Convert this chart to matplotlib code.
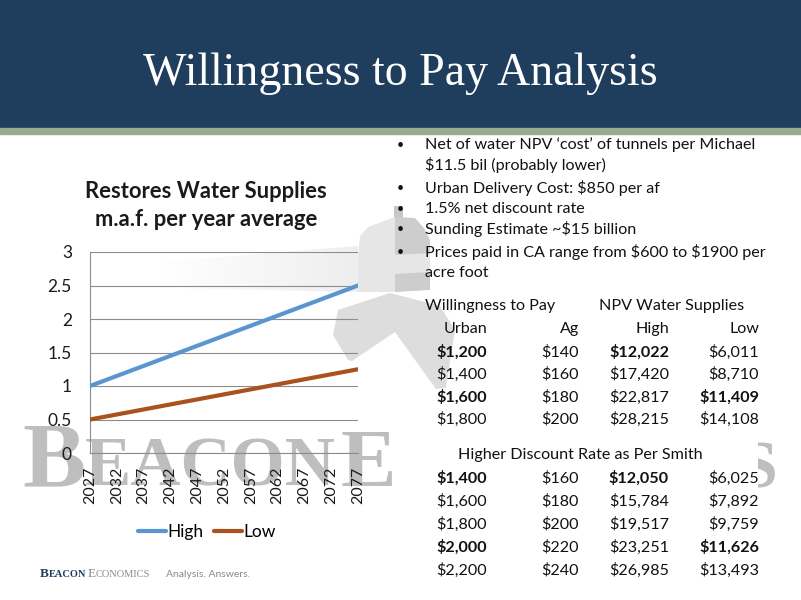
import matplotlib
matplotlib.use('Agg')
import numpy as np
import matplotlib.pyplot as plt
from matplotlib.patches import Rectangle, Polygon
from matplotlib.colors import LinearSegmentedColormap

# ---------------- data ----------------
years = [2027, 2032, 2037, 2042, 2047, 2052, 2057, 2062, 2067, 2072, 2077]
high = [1.0, 1.15, 1.3, 1.45, 1.6, 1.75, 1.9, 2.05, 2.2, 2.35, 2.5]
low = [0.5, 0.575, 0.65, 0.725, 0.8, 0.875, 0.95, 1.025, 1.1, 1.175, 1.25]
series_names = ['High', 'Low']
y_ticks = [0, 0.5, 1, 1.5, 2, 2.5, 3]
y_tick_labels = ['0', '0.5', '1', '1.5', '2', '2.5', '3']

slide_title = 'Willingness to Pay Analysis'
chart_title = ['Restores Water Supplies', 'm.a.f. per year average']

bullets = [
    ['Net of water NPV \u2018cost\u2019 of tunnels per Michael', '$11.5 bil (probably lower)'],
    ['Urban Delivery Cost: $850 per af'],
    ['1.5% net discount rate'],
    ['Sunding Estimate ~$15 billion'],
    ['Prices paid in CA range from $600 to $1900 per', 'acre foot'],
]

table1_groups = ['Willingness to Pay', 'NPV Water Supplies']
table_cols = ['Urban', 'Ag', 'High', 'Low']
table1_rows = [
    ['$1,200', '$140', '$12,022', '$6,011'],
    ['$1,400', '$160', '$17,420', '$8,710'],
    ['$1,600', '$180', '$22,817', '$11,409'],
    ['$1,800', '$200', '$28,215', '$14,108'],
]
table1_bold = [
    [True, False, True, False],
    [False, False, False, False],
    [True, False, False, True],
    [False, False, False, False],
]
table2_title = 'Higher Discount Rate as Per Smith'
table2_rows = [
    ['$1,400', '$160', '$12,050', '$6,025'],
    ['$1,600', '$180', '$15,784', '$7,892'],
    ['$1,800', '$200', '$19,517', '$9,759'],
    ['$2,000', '$220', '$23,251', '$11,626'],
    ['$2,200', '$240', '$26,985', '$13,493'],
]
table2_bold = [
    [True, False, True, False],
    [False, False, False, False],
    [False, False, False, False],
    [True, False, False, True],
    [False, False, False, False],
]

# ---------------- style ----------------
W, H = 801, 600
NAVY = '#1F3D5C'
STRIPE = '#9AAA8C'
BLUE = '#5B95CF'
BROWN = '#A9521F'
GRID = '#8C8C8C'
WM = '#BEBEBE'
SANS = ['Lato', 'DejaVu Sans']
SERIF = ['Liberation Serif', 'DejaVu Serif']
TXT = '#111111'
FS = 11.6

fig = plt.figure(figsize=(W / 100, H / 100), dpi=100)
fig.patch.set_facecolor('white')
bg = fig.add_axes([0, 0, 1, 1])
bg.set_xlim(0, W)
bg.set_ylim(H, 0)
bg.axis('off')
renderer = fig.canvas.get_renderer()


def txt(x, y, s, **kw):
    kw.setdefault('parse_math', False)
    kw.setdefault('zorder', 2)
    return bg.text(x, y, s, **kw)


def chain(x, y, pieces, **common):
    """Draw text pieces one after another starting at pixel x."""
    for s, kw in pieces:
        opts = dict(common)
        opts.update(kw)
        t = txt(x, y, s, ha='left', **opts)
        bb = t.get_window_extent(renderer=renderer)
        x += bb.width
    return x


# header
bg.add_patch(Rectangle((0, 0), W, 128, color=NAVY, zorder=1))
bg.add_patch(Rectangle((0, 128), W, 6, color=STRIPE, zorder=1))
txt(400, 85, slide_title, ha='center', va='baseline', color='white',
    fontsize=33, family=SERIF)

# ---------------- watermark ----------------
wm_kw = dict(va='baseline', color=WM, family=SERIF, zorder=0.5, fontweight='bold')
chain(22, 486, [('B', dict(fontsize=68)), ('EACON', dict(fontsize=50)),
                (' ', dict(fontsize=14)), ('E', dict(fontsize=60))], **wm_kw)
txt(739, 487, 'S', ha='left', fontsize=49, **wm_kw)

# light beam (soft gradient)
beam_cmap = LinearSegmentedColormap.from_list('beam', ['#FFFFFF', '#EEEEEE'])
im = bg.imshow(np.linspace(0, 1, 200)[None, :], extent=(160, 358, 292, 246),
               cmap=beam_cmap, aspect='auto', interpolation='bilinear', zorder=0.3)
beam_poly = Polygon([(160, 262), (358, 246), (358, 292), (160, 288)], closed=True,
                    transform=bg.transData)
im.set_clip_path(beam_poly)
bg.set_xlim(0, W)
bg.set_ylim(H, 0)

# lighthouse
bg.add_patch(Rectangle((394, 206), 9, 14, color='#C6C6C6', zorder=0.5, lw=0))
bg.add_patch(Polygon([(358, 256), (360, 236), (368, 227), (395, 217), (395, 292), (358, 292)],
                     closed=True, color='#E6E6E6', zorder=0.5, lw=0))
bg.add_patch(Polygon([(395, 217), (415, 218), (424, 228), (430, 240), (430, 290), (395, 292)],
                     closed=True, color='#CDCDCD', zorder=0.5, lw=0))
bg.add_patch(Polygon([(395, 255), (430, 253), (430, 272), (395, 274)],
                     closed=True, color='#E6E6E6', zorder=0.55, lw=0))
bg.add_patch(Polygon([(333, 335), (338, 310), (390, 293), (440, 306), (455, 330),
                      (446, 388), (436, 389), (395, 332), (352, 361), (348, 360)],
                     closed=True, color='#DDDDDD', zorder=0.5, lw=0))

# white box behind the lower table
bg.add_patch(Rectangle((400, 432), 358, 165, color='white', zorder=0.8, lw=0))

# ---------------- chart ----------------
ax = fig.add_axes([90 / W, 1 - 453 / H, 268 / W, 201 / H])
ax.patch.set_alpha(0)
ax.plot(years, high, color=BLUE, lw=3.0, solid_capstyle='round', label=series_names[0], zorder=3)
ax.plot(years, low, color=BROWN, lw=3.0, solid_capstyle='round', label=series_names[1], zorder=3)
ax.set_xlim(years[0], years[-1])
ax.set_ylim(0, 3)
ax.set_yticks(y_ticks)
ax.set_yticklabels(y_tick_labels, fontsize=12.5, family=SANS, color='#1a1a1a')
ax.set_xticks(years)
ax.set_xticklabels([str(y) for y in years], rotation=90, fontsize=11.5,
                   family=SANS, color='#1a1a1a')
ax.tick_params(axis='y', length=0, pad=13)
ax.tick_params(axis='x', length=0, pad=10)
ax.yaxis.grid(True, color=GRID, lw=0.8)
ax.set_axisbelow(True)
for s in ['top', 'right']:
    ax.spines[s].set_visible(False)
for s in ['left', 'bottom']:
    ax.spines[s].set_color(GRID)
    ax.spines[s].set_linewidth(0.8)
ax.legend(loc='center', bbox_to_anchor=(207 / W, 1 - 532 / H), bbox_transform=fig.transFigure,
          ncol=2, frameon=False, handlelength=1.6, handletextpad=0.1, columnspacing=0.6,
          prop={'family': SANS, 'size': 12.5})

txt(206, 191, chart_title[0], ha='center', va='center', fontsize=15.8,
    fontweight='bold', family=SANS, color='#1a1a1a')
txt(206, 219, chart_title[1], ha='center', va='center', fontsize=15.8,
    fontweight='bold', family=SANS, color='#1a1a1a')

# ---------------- bullets ----------------
line_y = [145, 165, 188, 209, 229, 252, 273]
i = 0
for b in bullets:
    for j, line in enumerate(b):
        if j == 0:
            txt(400, line_y[i], '\u2022', ha='center', va='center', fontsize=9,
                family=SANS, color=TXT)
        txt(425, line_y[i], line, ha='left', va='center', fontsize=FS,
            family=SANS, color=TXT)
        i += 1

# ---------------- tables ----------------
col_right = [487, 579, 669, 759]
txt(425, 306, table1_groups[0], ha='left', va='center', fontsize=FS, family=SANS, color=TXT)
txt(599, 306, table1_groups[1], ha='left', va='center', fontsize=FS, family=SANS, color=TXT)
for c, name in enumerate(table_cols):
    txt(col_right[c], 329, name, ha='right', va='center', fontsize=FS, family=SANS, color=TXT)
rows1_y = [352, 374, 397, 419]
for r, row in enumerate(table1_rows):
    for c, val in enumerate(row):
        txt(col_right[c], rows1_y[r], val, ha='right', va='center', fontsize=FS,
            family=SANS, color=TXT, fontweight='bold' if table1_bold[r][c] else 'normal')

txt(458, 455, table2_title, ha='left', va='center', fontsize=FS, family=SANS, color=TXT)
rows2_y = [478, 501, 524, 547, 570]
for r, row in enumerate(table2_rows):
    for c, val in enumerate(row):
        txt(col_right[c], rows2_y[r], val, ha='right', va='center', fontsize=FS,
            family=SANS, color=TXT, fontweight='bold' if table2_bold[r][c] else 'normal')

# ---------------- footer logo ----------------
fk = dict(va='baseline', family=SERIF)
chain(40, 577, [('B', dict(fontsize=9.5, color=NAVY, fontweight='bold')),
                ('EACON', dict(fontsize=7.5, color=NAVY, fontweight='bold')),
                (' ', dict(fontsize=4)),
                ('E', dict(fontsize=9.5, color='#8A8A8A')),
                ('CONOMICS', dict(fontsize=7.5, color='#8A8A8A'))], **fk)
txt(166, 577, 'Analysis. Answers.', ha='left', va='baseline', fontsize=7.5,
    family=SANS, color='#8A8A8A')

fig.savefig('out.png', dpi=100, facecolor='white')
